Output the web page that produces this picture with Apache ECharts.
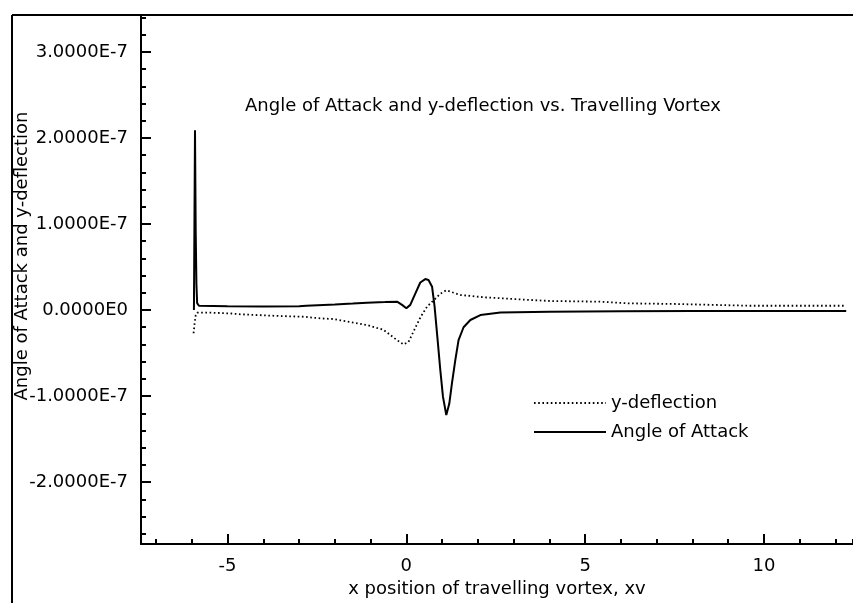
<!DOCTYPE html>
<html>
<head>
<meta charset="utf-8">
<script src="https://cdn.jsdelivr.net/npm/echarts@6/dist/echarts.min.js"></script>
<style>
  html, body { margin: 0; padding: 0; background: #fff; }
  #chart { width: 853px; height: 603px; }
</style>
</head>
<body>
<div id="chart"></div>
<script>
// Values are in units of 1E-7; the y axis labels append the exponent.
const aoaX = [-5.94, -5.91, -5.89, -5.87, -5.85, -5.80, -5.0, -4.0, -3.0, -2.8, -2.75, -2.0, -1.5, -1.1, -0.6, -0.26, -0.12, 0.0, 0.11, 0.25, 0.39, 0.53, 0.62, 0.72, 0.79, 0.875, 0.95, 1.025, 1.117, 1.20, 1.276, 1.37, 1.46, 1.60, 1.79, 2.07, 2.63, 4.0, 6.0, 8.0, 10.0, 12.3];
const aoaY = [0.00, 2.09, 0.90, 0.30, 0.08, 0.05, 0.045, 0.04, 0.045, 0.05, 0.07, 0.065, 0.075, 0.085, 0.092, 0.097, 0.06, 0.02, 0.06, 0.19, 0.32, 0.36, 0.35, 0.27, 0.04, -0.35, -0.70, -1.01, -1.22, -1.09, -0.85, -0.58, -0.35, -0.20, -0.116, -0.058, -0.03, -0.02, -0.015, -0.012, -0.012, -0.012];

const defX = [-5.95, -5.92, -5.89, -5.85, -5.5, -4.9, -4.64, -3.52, -2.87, -2.40, -2.03, -1.84, -1.10, -0.64, -0.26, -0.08, 0.06, 0.20, 0.40, 0.58, 0.77, 0.95, 1.12, 1.33, 1.52, 2.17, 3.10, 4.02, 5.42, 6.17, 7.57, 9.6, 12.3];
const defY = [-0.27, -0.15, -0.06, -0.03, -0.03, -0.04, -0.05, -0.07, -0.078, -0.097, -0.105, -0.12, -0.175, -0.23, -0.35, -0.40, -0.37, -0.25, -0.08, 0.04, 0.116, 0.19, 0.23, 0.20, 0.175, 0.148, 0.125, 0.105, 0.097, 0.078, 0.07, 0.05, 0.05];

const seriesNames = ['y-deflection', 'Angle of Attack'];
const titleText = 'Angle of Attack and y-deflection vs. Travelling Vortex';
const xName = 'x position of travelling vortex, xv';
const yName = 'Angle of Attack and y-deflection';

const xRange = [-7.42, 12.49];
const yRange = [-2.72, 3.43];

const FONT = '"DejaVu Sans", "Liberation Sans", Arial, sans-serif';
const FS = 18;

const zip = (xs, ys) => xs.map((x, i) => [x, ys[i]]);

function yLabel(v) {
  if (Math.abs(v) < 1e-9) return '0.0000E0';
  return v.toFixed(4) + 'E-7';
}

const chart = echarts.init(document.getElementById('chart'), null, { renderer: 'canvas' });

const option = {
  animation: false,
  backgroundColor: '#fff',
  title: {
    text: titleText,
    left: 245,
    top: 97,
    padding: 0,
    textStyle: { fontFamily: FONT, fontSize: FS, fontWeight: 'normal', color: '#000' }
  },
  legend: {
    orient: 'vertical',
    left: 533,
    top: 394,
    padding: 0,
    itemWidth: 72,
    itemHeight: 12,
    itemGap: 11,
    selectedMode: false,
    data: seriesNames,
    itemStyle: { opacity: 0 },
    textStyle: { fontFamily: FONT, fontSize: FS, color: '#000' }
  },
  grid: { left: 141, right: 0, top: 15, bottom: 59, outerBoundsMode: 'none' },
  xAxis: [
    {
      type: 'value', min: xRange[0], max: xRange[1], splitNumber: 4,
      name: xName, nameLocation: 'middle', nameGap: 36,
      nameTextStyle: { fontFamily: FONT, fontSize: FS, color: '#000' },
      axisLine: { onZero: false, lineStyle: { color: '#000', width: 2 } },
      axisTick: { inside: true, length: 10, lineStyle: { color: '#000', width: 2 } },
      axisLabel: { color: '#000', fontFamily: FONT, fontSize: FS, margin: 13, showMinLabel: false, showMaxLabel: false },
      splitLine: { show: false }
    },
    {
      type: 'value', min: xRange[0], max: xRange[1], splitNumber: 20, position: 'bottom', offset: 0,
      axisLine: { show: false, onZero: false },
      axisTick: { inside: true, length: 5, lineStyle: { color: '#000', width: 2 } },
      axisLabel: { show: false },
      splitLine: { show: false }
    }
  ],
  yAxis: [
    {
      type: 'value', min: yRange[0], max: yRange[1], splitNumber: 6,
      axisLine: { show: true, onZero: false, lineStyle: { color: '#000', width: 2 } },
      axisTick: { show: true, inside: true, length: 10, lineStyle: { color: '#000', width: 2 } },
      axisLabel: { color: '#000', fontFamily: FONT, fontSize: FS, margin: 13, showMinLabel: false, showMaxLabel: false, formatter: yLabel },
      splitLine: { show: false }
    },
    {
      type: 'value', min: yRange[0], max: yRange[1], splitNumber: 30, position: 'left', offset: 0,
      axisLine: { show: false, onZero: false },
      axisTick: { show: true, inside: true, length: 5, lineStyle: { color: '#000', width: 2 } },
      axisLabel: { show: false },
      splitLine: { show: false }
    }
  ],
  series: [
    {
      name: seriesNames[0], type: 'line', xAxisIndex: 0, yAxisIndex: 0,
      data: zip(defX, defY), symbol: 'none', silent: true,
      itemStyle: { color: '#000' },
      lineStyle: { color: '#000', width: 1.8, type: [1.6, 2.6] }
    },
    {
      name: seriesNames[1], type: 'line', xAxisIndex: 0, yAxisIndex: 0,
      data: zip(aoaX, aoaY), symbol: 'none', silent: true,
      itemStyle: { color: '#000' },
      lineStyle: { color: '#000', width: 2 }
    }
  ],
  graphic: [
    // outer frame: left and top edges
    { type: 'line', shape: { x1: 12, y1: 15, x2: 12, y2: 603 }, style: { stroke: '#000', lineWidth: 2 } },
    { type: 'line', shape: { x1: 12, y1: 15, x2: 853, y2: 15 }, style: { stroke: '#000', lineWidth: 2 } },
    {
      type: 'text', x: 22, y: 256, rotation: Math.PI / 2,
      style: { text: yName, fontFamily: FONT, fontSize: FS, fill: '#000', align: 'center', verticalAlign: 'middle' }
    }
  ]
};

chart.setOption(option);
</script>
</body>
</html>
